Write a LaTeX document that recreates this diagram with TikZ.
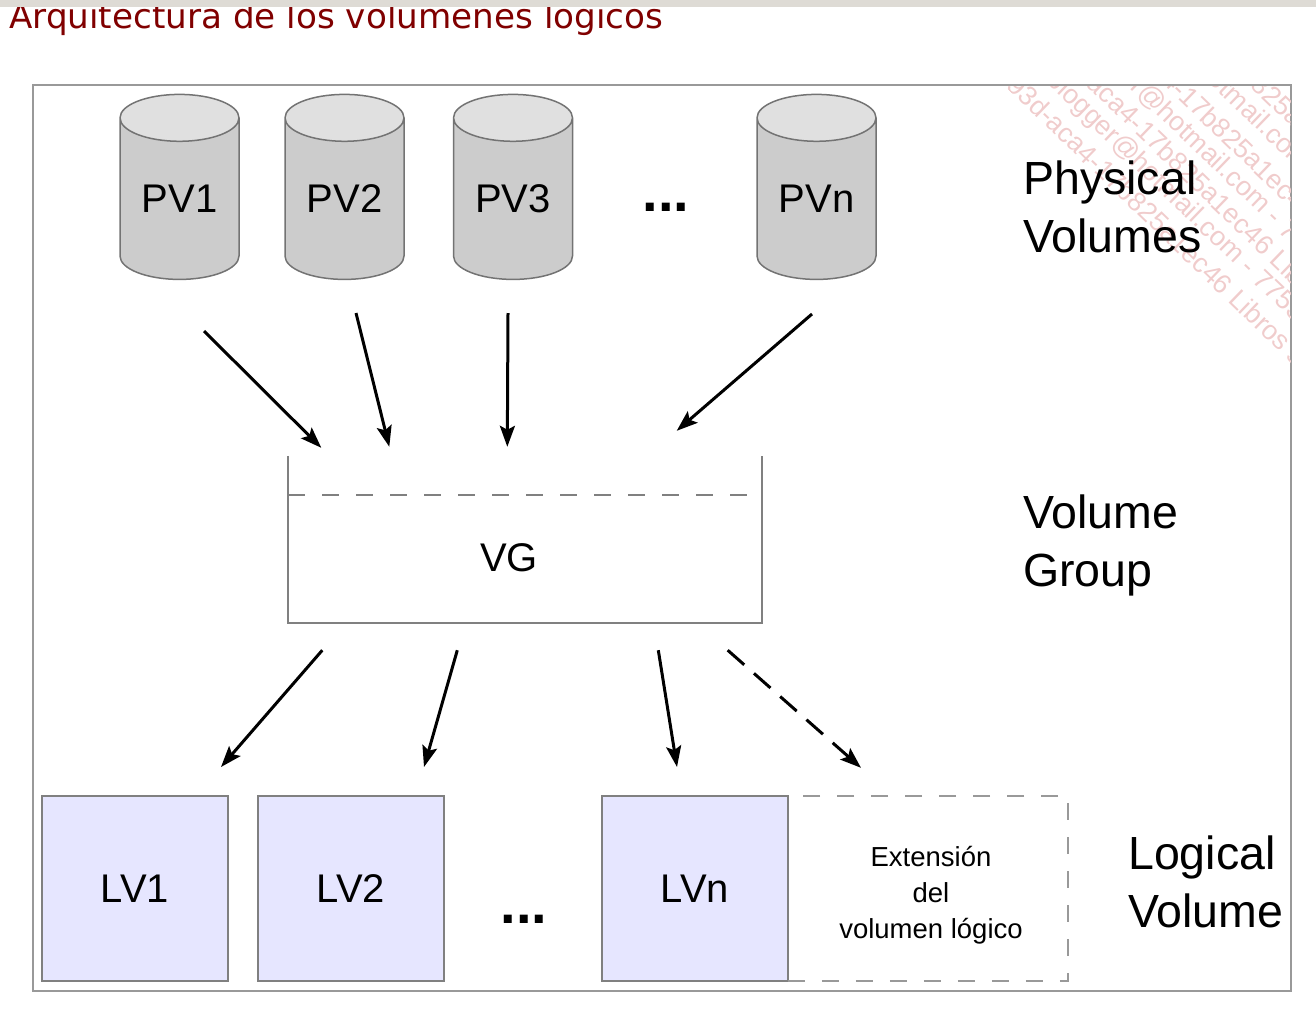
\documentclass[tikz,border=0pt]{standalone}
\usepackage{fontspec}
\setmainfont{Liberation Sans}
\newfontfamily\titlefont{DejaVu Sans}
\usepackage{xcolor}
\usetikzlibrary{arrows.meta, positioning, calc, shapes.geometric}
\definecolor{framegray}{HTML}{999999}
\definecolor{lvblue}{HTML}{E6E6FF}
\definecolor{titlered}{HTML}{800000}
\definecolor{markpink}{HTML}{F0CCCC}
\definecolor{stripgray}{HTML}{DEDBD5}

\tikzset{
  pvdisk/.style={cylinder, shape border rotate=90, aspect=0.62, draw=black!55, line width=1.5pt,
    cylinder uses custom fill, cylinder body fill=black!20, cylinder end fill=black!12,
    minimum width=119pt, minimum height=185pt, inner sep=0pt, font=\fontsize{40}{40}\selectfont},
  lvbox/.style={draw=black!50, line width=2pt, fill=lvblue, minimum width=186pt, minimum height=185pt,
    inner sep=0pt, font=\fontsize{40}{40}\selectfont},
  caption/.style={align=left, anchor=north west, inner sep=0pt, font=\fontsize{46.5}{58}\selectfont},
  flow/.style={-{Stealth[length=21pt,width=15pt,inset=4pt]}, line width=3pt},
  dots/.style={font=\fontsize{56}{56}\selectfont\bfseries, inner sep=0pt},
}

\begin{document}
\begin{tikzpicture}[x=1pt, y=-1pt]
  \useasboundingbox (0,0) rectangle (1316,1012);
  \node[anchor=base west, inner sep=0pt, text=titlered, font=\fontsize{34.2}{34}\titlefont] (title) at (9,28) {Arquitectura de los volúmenes lógicos};
  \fill[stripgray] (0,0) rectangle (1316,7);
  \node[draw=framegray, line width=2pt, minimum width=1258pt, minimum height=906pt, inner sep=0pt] (frame) at (662,538) {};

  \begin{scope}
    \clip (1005,86) -- (1290,86) -- (1290,371) -- cycle;
    \foreach \i/\x/\y/\txt in {1/1302/360/93d-aca4-17b825a1ec46 Libros s, 2/1300/318/blogger@hotmail.com - 7753, 3/1328/306/93d-aca4-17b825a1ec46 Libros, 4/1326/268/blogger@hotmail.com - 7753, 5/1371/272/93d-aca4-17b825a1ec46 Libros, 6/1366/225/blogger@hotmail.com - 7753, 7/1411/229/93d-aca4-17b825a1ec46 Libros}
      \node[rotate=-44, anchor=east, text=markpink, inner sep=0pt, font=\fontsize{27}{27}\selectfont] (mark\i) at (\x,\y) {\txt};
  \end{scope}

  \node[pvdisk] (PV1) at (179.5,199) {PV1};
  \node[pvdisk] (PV2) at (344.5,199) {PV2};
  \node[pvdisk] (PV3) at (513,199) {PV3};
  \node[pvdisk] (PVn) at (816.5,199) {PVn};
  \node[dots] (dotsPV) at (666,207) {...};

  \node[caption] (physical) at (1023,161) {Physical\\Volumes};
  \node[caption] (group) at (1023,495) {Volume\\Group};
  \node[caption] (logical) at (1128,836) {Logical\\Volume};

  \node[minimum width=473pt, minimum height=167pt, inner sep=0pt] (VG) at (525,539.5) {};
  \draw[draw=black!50, line width=2pt] (VG.north west) -- (VG.south west) -- (VG.south east) -- (VG.north east);
  \draw[draw=black!50, line width=1.5pt, dash pattern=on 17pt off 17pt] ([yshift=-39pt]VG.north west) -- ([yshift=-39pt]VG.north east);
  \node[inner sep=0pt, font=\fontsize{40}{40}\selectfont] (VGlabel) at (509,558) {VG};

  \node[lvbox] (LV1) at (135,888.5) {LV1};
  \node[lvbox] (LV2) at (351,888.5) {LV2};
  \node[lvbox] (LVn) at (695,888.5) {LVn};
  \node[dots] (dotsLV) at (524,919) {...};
  \node[minimum width=280pt, minimum height=185pt, inner sep=0pt] (LVext) at (928,888.5) {};
  \node[inner sep=0pt, align=center, font=\fontsize{27.5}{36}\selectfont] (LVextlabel) at (931,895) {Extensión\\del\\volumen lógico};
  \draw[draw=black!40, line width=2pt, dash pattern=on 17pt off 17pt] (LVext.south west) -- (LVext.south east) -- (LVext.north east) -- (LVext.north west);

  \draw[flow] ([shift={(24.5,132)}]PV1.center) -- ([shift={(33,-8)}]VG.north west);
  \draw[flow] ([shift={(11.5,114)}]PV2.center) -- ([shift={(101,-9)}]VG.north west);
  \draw[flow] ([shift={(-5,114)}]PV3.center) -- ([shift={(219,-9)}]VG.north west);
  \draw[flow] ([shift={(-4.5,115)}]PVn.center) -- ([shift={(-85,-25)}]VG.north east);

  \draw[flow] ([shift={(34,27)}]VG.south west) -- ([shift={(86,-28)}]LV1.north);
  \draw[flow] ([shift={(169,27)}]VG.south west) -- ([shift={(73,-28)}]LV2.north);
  \draw[flow] ([shift={(370,27)}]VG.south west) -- ([shift={(-18,-28)}]LVn.north);
  \draw[flow, dash pattern=on 22pt off 13pt] ([shift={(-34,27)}]VG.south east) -- ([shift={(-67,-28)}]LVext.north);
\end{tikzpicture}
\end{document}
